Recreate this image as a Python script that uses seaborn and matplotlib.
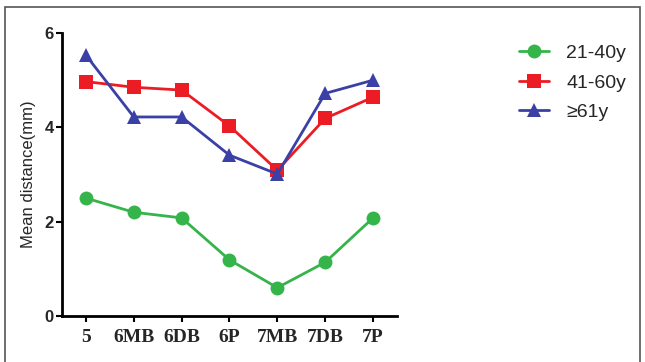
import pandas as pd
import matplotlib.pyplot as plt
import seaborn as sns
from matplotlib.patches import Rectangle

# Values
sites = ["5", "6MB", "6DB", "6P", "7MB", "7DB", "7P"]
age_21_40 = [2.50, 2.20, 2.08, 1.19, 0.60, 1.14, 2.08]
age_41_60 = [4.97, 4.85, 4.79, 4.03, 3.09, 4.19, 4.64]
age_61_up = [5.53, 4.22, 4.22, 3.41, 3.01, 4.72, 5.00]
groups = ["21-40y", "41-60y", "\u226561y"]

df = pd.DataFrame({
    "site": sites * 3,
    "pos": list(range(len(sites))) * 3,
    "distance": age_21_40 + age_41_60 + age_61_up,
    "group": [g for g in groups for _ in sites],
})

palette = {"21-40y": "#35b44a", "41-60y": "#ec1c24", "\u226561y": "#3a40a6"}
markers = {"21-40y": "o", "41-60y": "s", "\u226561y": "^"}

sns.set_style("ticks")
plt.rcParams["font.family"] = ["Liberation Sans", "DejaVu Sans"]

fig = plt.figure(figsize=(6.45, 3.62), dpi=100)
ax = fig.add_axes([0.0961, 0.127, 0.5194, 0.7818])

sns.lineplot(data=df, x="pos", y="distance", hue="group", style="group",
             palette=palette, markers=markers, dashes=False, linewidth=2,
             markersize=10, markeredgewidth=0, ax=ax, legend=False)

ax.set_xlim(-0.5, 6.5)
ax.set_ylim(0, 6)
ax.set_yticks([0, 2, 4, 6])
ax.set_yticklabels(["0", "2", "4", "6"], fontweight="bold", fontsize=12)
ax.set_xticks(range(len(sites)))
ax.set_xticklabels(sites, family="Liberation Serif", fontweight="bold", fontsize=14)
ax.set_xlabel("")
ax.set_ylabel("Mean distance(mm)", fontsize=12, labelpad=6)
sns.despine(ax=ax)
for s in ["left", "bottom"]:
    ax.spines[s].set_linewidth(2)
    ax.spines[s].set_color("black")
ax.tick_params(axis="y", width=1.5, length=4, color="black", pad=2)
ax.tick_params(axis="x", width=1.5, length=4, color="black", pad=5)

# legend
handles = [plt.Line2D([], [], color=palette[g], marker=markers[g], lw=2,
                      markersize=10, markeredgewidth=0) for g in groups]
fig.legend(handles, groups, loc="upper left", bbox_to_anchor=(0.777, 0.925),
           frameon=False, fontsize=14, handlelength=1.55, handletextpad=0.9,
           labelspacing=0.6)

# outer frame
fig.patches.append(Rectangle((0.008, -0.01), 0.985, 0.99, transform=fig.transFigure,
                             fill=False, edgecolor="#555555", linewidth=1.2))

fig.savefig("out.png", dpi=100)
